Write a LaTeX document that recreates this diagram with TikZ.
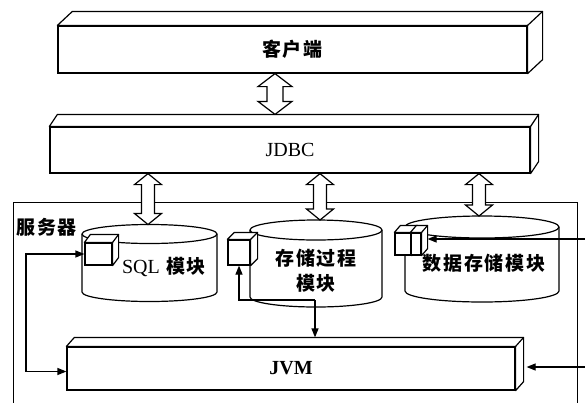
\documentclass[tikz,border=0pt]{standalone}
\usepackage{fontspec}
\setmainfont{Liberation Serif}
\newfontfamily\cjk{Noto Sans CJK SC}[LetterSpace=10]
\usetikzlibrary{arrows.meta,calc}

\tikzset{
  line/.style={line width=1.2pt},
  box/.style={draw, line width=1.2pt, fill=white, inner sep=0pt, font=\fontsize{20}{22}\selectfont},
  cyl/.style={inner sep=0pt, outer sep=0pt},
  cube/.style={draw, line width=1.2pt, fill=white, inner sep=0pt},
  lbl/.style={inner sep=0pt, font=\cjk\bfseries\fontsize{19}{25}\selectfont},
  conn/.style={line width=1.2pt, -{Triangle[length=9pt,width=7pt]}},
  dconn/.style={line width=1.2pt, {Triangle[length=9pt,width=7pt]}-{Triangle[length=9pt,width=7pt]}},
}

% 3D top and side faces of a box node
\newcommand\boxdepth[3]{%
  \draw[line, fill=white, line join=round] (#1.north west) -- ++(#2,#3)
    -- ($(#1.north east)+(#2,#3)$) -- ($(#1.south east)+(#2,#3)$)
    -- (#1.south east) -- (#1.north east) -- cycle;
  \draw[line] (#1.north east) -- ++(#2,#3);}

% cylinder outline drawn round a node
\newcommand\drawcyl[3]{%
  \draw[line, fill=white] (#1.north west) -- (#1.south west)
    arc[start angle=180, end angle=360, x radius=#2, y radius=#3]
    -- (#1.north east)
    arc[start angle=0, end angle=180, x radius=#2, y radius=#3] -- cycle;
  \draw[line] (#1.north east) arc[start angle=0, end angle=-180, x radius=#2, y radius=#3];}

% hollow double arrow between two points on a vertical line
\newcommand\dblarrow[5]{%
  \draw[line, fill=white, line join=miter] let \p1=#1, \p2=#2 in
    (\x1,\y1) -- (\x1+#4,\y1-#5) -- (\x1+#3,\y1-#5) -- (\x1+#3,\y2+#5)
    -- (\x1+#4,\y2+#5) -- (\x1,\y2) -- (\x1-#4,\y2+#5) -- (\x1-#3,\y2+#5)
    -- (\x1-#3,\y1-#5) -- (\x1-#4,\y1-#5) -- cycle;}

\begin{document}
\begin{tikzpicture}[x=1pt,y=-1pt]
\useasboundingbox (0,0) rectangle (585,402);
\fill[white] (0,0) rectangle (585,402);

% server frame
\node[draw, line width=1.2pt, inner sep=0pt, minimum width=564pt, minimum height=215pt, anchor=north west] (server) at (13,202) {};
\node[lbl, anchor=west] (srvlbl) at (16,227) {服务器};

% client and JDBC
\node[box, minimum width=469pt, minimum height=47pt, font=\cjk\bfseries\fontsize{19}{22}\selectfont] (client) at (292.5,49.5) {客户端};
\boxdepth{client}{15}{-14}
\node[box, minimum width=480pt, minimum height=46pt] (jdbc) at (290,150) {JDBC};
\boxdepth{jdbc}{8}{-12}

% cylinders
\node[cyl, minimum width=135pt, minimum height=58pt] (sql) at (149.5,263) {};
\drawcyl{sql}{67.5pt}{9.5pt}
\node[cyl, minimum width=132pt, minimum height=67pt] (sp) at (316,263.5) {};
\drawcyl{sp}{66pt}{10pt}
\node[cyl, minimum width=154pt, minimum height=64pt] (data) at (482,259) {};
\drawcyl{data}{77pt}{11pt}

\node[lbl] (sqltxt) at (164,267) {{\rmfamily\mdseries\fontsize{20}{22}\selectfont SQL} 模块};
\node[lbl, align=center] (sptxt) at (316,270.5) {存储过程\\模块};
\node[lbl] (datatxt) at (484,263) {数据存储模块};

% JVM
\node[box, minimum width=448pt, minimum height=43pt, font=\bfseries\fontsize{20}{22}\selectfont] (jvm) at (291,368.5) {JVM};
\boxdepth{jvm}{8}{-9}

% cubes
\node[cube, minimum width=27pt, minimum height=22pt] (sqlcube) at (98.5,254) {};
\boxdepth{sqlcube}{6}{-8}
\node[cube, minimum width=22pt, minimum height=25pt] (spcube) at (239,252.5) {};
\boxdepth{spcube}{7}{-7}
\node[cube, minimum width=16pt, minimum height=22pt] (dcubea) at (403,244) {};
\boxdepth{dcubea}{6}{-7}
\node[cube, minimum width=10pt, minimum height=22pt] (dcubeb) at (416,244) {};
\boxdepth{dcubeb}{6}{-7}

% hollow double arrows
\coordinate (a0) at (275,0);
\coordinate (a1) at (148,0);
\coordinate (a2) at (320,0);
\coordinate (a3) at (479,0);
\coordinate (jdbcback) at ([yshift=12pt]jdbc.north);
\coordinate (sqltop) at ([yshift=9.5pt]sql.north);
\coordinate (sptop) at ([yshift=10pt]sp.north);
\coordinate (datatop) at ([yshift=11pt]data.north);
\dblarrow{(a0 |- client.south)}{(a0 |- jdbcback)}{8pt}{17pt}{13pt}
\dblarrow{(a1 |- jdbc.south)}{(a1 |- sqltop)}{6.5pt}{13.5pt}{11pt}
\dblarrow{(a2 |- jdbc.south)}{(a2 |- sptop)}{6.5pt}{13.5pt}{11pt}
\dblarrow{(a3 |- jdbc.south)}{(a3 |- datatop)}{6.5pt}{13.5pt}{11pt}

% connectors
\coordinate (lc) at (26,300);
\draw[dconn] (sqlcube.west) -| (lc) |- ([yshift=-3pt]jvm.west);

\coordinate (jn) at (315,300);
\coordinate (jvmback) at ([yshift=9pt]jvm.north);
\draw[conn] (jn) -- (jn |- jvmback);
\draw[conn] (jn) -| (spcube.south);

\coordinate (r1) at (586,239);
\coordinate (r2) at (586,367);
\coordinate (dside) at ([xshift=6pt]dcubeb.east);
\coordinate (jside) at ([xshift=11pt]jvm.east);
\draw[conn] (r1) -- (r1 -| dside);
\draw[conn] (r2) -- (r2 -| jside);
\end{tikzpicture}
\end{document}
